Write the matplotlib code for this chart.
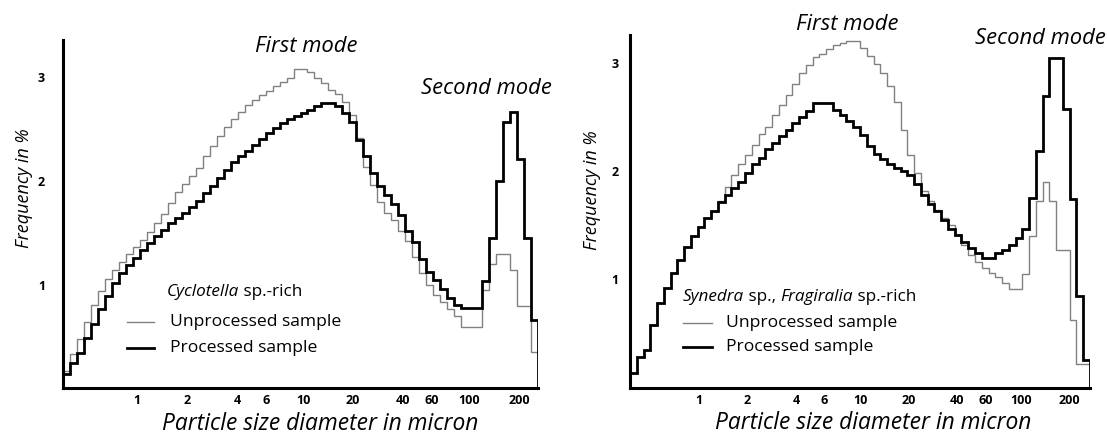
import numpy as np
import matplotlib.pyplot as plt
from matplotlib.lines import Line2D

plt.rcParams['font.family'] = ['Open Sans', 'DejaVu Sans']

# ---- data (frequency in % per size channel) ----
tick_values = [1, 2, 4, 6, 10, 20, 40, 60, 100, 200]
tick_labels = ['1', '2', '4', '6', '10', '20', '40', '60', '100', '200']

# left panel : Cyclotella sp.-rich
left_range = (0.358, 260.5)
left_unprocessed = [0.16, 0.33, 0.47, 0.64, 0.80, 0.94, 1.05, 1.14, 1.22, 1.29,
                    1.36, 1.43, 1.51, 1.59, 1.68, 1.79, 1.89, 1.97, 2.05, 2.13,
                    2.24, 2.34, 2.43, 2.52, 2.60, 2.67, 2.73, 2.78, 2.83, 2.87,
                    2.92, 2.96, 3.00, 3.08, 3.08, 3.05, 3.00, 2.95, 2.88, 2.84,
                    2.76, 2.64, 2.42, 2.14, 1.96, 1.80, 1.69, 1.62, 1.52, 1.42,
                    1.27, 1.11, 1.00, 0.90, 0.83, 0.76, 0.70, 0.59, 0.59, 0.59,
                    0.95, 1.20, 1.29, 1.29, 1.14, 0.79, 0.79, 0.35]
left_processed = [0.14, 0.24, 0.34, 0.48, 0.62, 0.76, 0.89, 1.01, 1.11, 1.19,
                  1.26, 1.33, 1.40, 1.47, 1.53, 1.59, 1.64, 1.69, 1.75, 1.81,
                  1.88, 1.95, 2.03, 2.11, 2.18, 2.24, 2.29, 2.35, 2.41, 2.46,
                  2.51, 2.56, 2.60, 2.63, 2.66, 2.69, 2.72, 2.75, 2.75, 2.72,
                  2.66, 2.57, 2.40, 2.24, 2.08, 1.95, 1.86, 1.78, 1.67, 1.52,
                  1.41, 1.25, 1.12, 1.04, 0.96, 0.87, 0.80, 0.77, 0.77, 0.77,
                  1.03, 1.45, 2.00, 2.57, 2.67, 2.21, 1.45, 0.66]

# right panel : Synedra sp., Fragiralia sp.-rich
right_range = (0.373, 268.0)
right_unprocessed = [0.14, 0.29, 0.35, 0.58, 0.78, 0.92, 1.06, 1.18, 1.30, 1.40,
                     1.48, 1.57, 1.63, 1.72, 1.85, 1.96, 2.06, 2.15, 2.24, 2.34,
                     2.41, 2.52, 2.61, 2.70, 2.80, 2.90, 2.98, 3.05, 3.08, 3.12,
                     3.16, 3.18, 3.20, 3.20, 3.13, 3.06, 2.99, 2.90, 2.78, 2.64,
                     2.38, 2.15, 1.98, 1.82, 1.72, 1.64, 1.57, 1.50, 1.41, 1.32,
                     1.23, 1.16, 1.11, 1.06, 1.02, 0.97, 0.91, 0.91, 1.05, 1.40,
                     1.72, 1.90, 1.72, 1.27, 1.27, 0.63, 0.22, 0.22]
right_processed = [0.14, 0.29, 0.35, 0.58, 0.78, 0.92, 1.06, 1.18, 1.30, 1.40,
                   1.48, 1.57, 1.63, 1.71, 1.78, 1.84, 1.90, 1.98, 2.06, 2.12,
                   2.20, 2.26, 2.32, 2.38, 2.44, 2.50, 2.55, 2.63, 2.63, 2.63,
                   2.56, 2.52, 2.46, 2.41, 2.33, 2.23, 2.16, 2.11, 2.06, 2.03,
                   2.00, 1.96, 1.88, 1.78, 1.70, 1.63, 1.55, 1.47, 1.41, 1.35,
                   1.29, 1.24, 1.20, 1.20, 1.24, 1.27, 1.32, 1.38, 1.47, 1.75,
                   2.18, 2.69, 3.04, 3.04, 2.57, 1.74, 0.85, 0.26]

W, H = 1107, 434
GRAY = '#808080'


def fx(x):
    return x / W


def fy(y):
    return 1 - y / H


def draw_panel(rect, xrange, ytop, unprocessed, processed, ylab_pad):
    ax = fig.add_axes([fx(rect[0]), fy(rect[3]), fx(rect[1] - rect[0]), (rect[3] - rect[2]) / H])
    # equal log-width size channels over the whole axis
    edges = np.geomspace(xrange[0], xrange[1], len(processed) + 1)
    ax.stairs(unprocessed, edges, baseline=0, color=GRAY, lw=1.0)
    ax.stairs(processed, edges, baseline=0, color='black', lw=2.0)

    ax.set_xscale('log')
    ax.set_xlim(xrange)
    ax.set_ylim(0, ytop)
    ax.xaxis.set_minor_locator(plt.NullLocator())
    ax.set_xticks(tick_values)
    ax.set_xticklabels(tick_labels)
    ax.set_yticks([1, 2, 3])
    ax.set_yticklabels(['1', '2', '3'])
    ax.tick_params(axis='x', length=0, pad=4, labelsize=9)
    ax.tick_params(axis='y', length=0, pad=ylab_pad, labelsize=9)
    for lab in ax.get_xticklabels() + ax.get_yticklabels():
        lab.set_fontweight('bold')

    for side in ['top', 'right']:
        ax.spines[side].set_visible(False)
    for side in ['left', 'bottom']:
        ax.spines[side].set_linewidth(2.2)
    ax.set_facecolor('none')
    return ax


def title_text(x, y, parts, size=12.3):
    # italic / roman pieces written one after the other
    t = fig.text(fx(x), fy(y), parts[0][0], style=parts[0][1], fontsize=size,
                 ha='left', va='bottom')
    for txt, st in parts[1:]:
        t = fig.add_artist(plt.Annotation(txt, xy=(1, 0), xycoords=t, va='bottom',
                                          ha='left', style=st, fontsize=size))
    return t


fig = plt.figure(figsize=(W / 100, H / 100), dpi=100)

ax1 = draw_panel((63, 538, 40, 388), left_range, (388 - 40) / 103.5,
                 left_unprocessed, left_processed, 13)
ax2 = draw_panel((630, 1090, 35, 388), right_range, (388 - 35) / 108.5,
                 right_unprocessed, right_processed, 8)

# axis titles
for (x, y) in [(24, 188), (592, 190)]:
    fig.text(fx(x), fy(y), 'Frequency in %', rotation=90, style='italic',
             fontsize=13, ha='center', va='center')
for (x, y) in [(320, 424), (873, 423)]:
    fig.text(fx(x), fy(y), 'Particle size diameter in micron', style='italic',
             fontsize=16.4, ha='center', va='center')

# mode annotations
for (x, y, s) in [(306, 47, 'First mode'), (486, 88, 'Second mode'),
                  (847, 24, 'First mode'), (1040, 39, 'Second mode')]:
    fig.text(fx(x), fy(y), s, style='italic', fontsize=15.8, ha='center', va='center')

title_text(167, 300, [('Cyclotella', 'italic'), (' sp.-rich', 'normal')])
title_text(683, 305, [('Synedra', 'italic'), (' sp., ', 'normal'),
                      ('Fragiralia', 'italic'), (' sp.-rich', 'normal')])

# legend samples
for (x0, x1, xt, yu, yp) in [(127, 154, 170, 322, 348), (683, 712, 726, 323, 347)]:
    fig.add_artist(Line2D([fx(x0), fx(x1)], [fy(yu), fy(yu)], color=GRAY, lw=1.0))
    fig.add_artist(Line2D([fx(x0), fx(x1)], [fy(yp), fy(yp)], color='black', lw=2.0))
    fig.text(fx(xt), fy(yu), 'Unprocessed sample', fontsize=12.6, ha='left', va='center')
    fig.text(fx(xt), fy(yp), 'Processed sample', fontsize=12.6, ha='left', va='center')

fig.savefig('out.png', dpi=100)
